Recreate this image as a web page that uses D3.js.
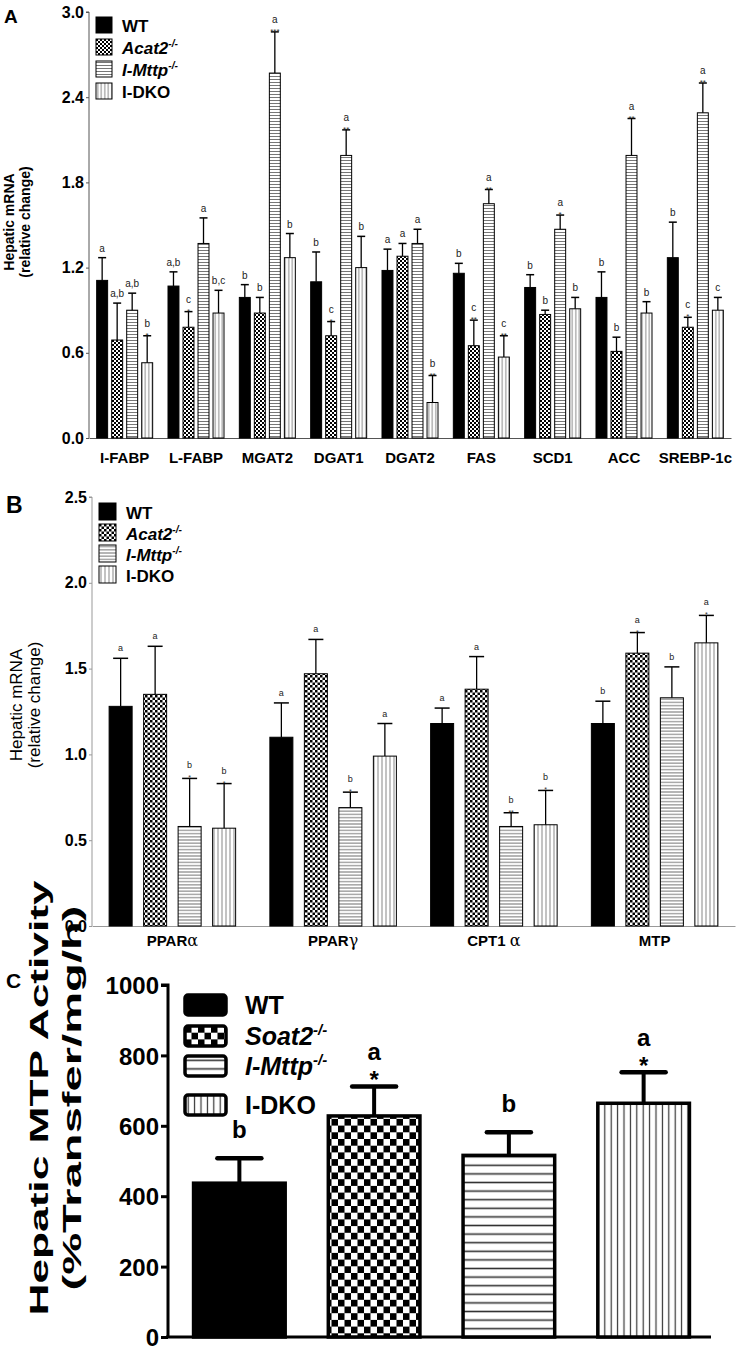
<!DOCTYPE html>
<html>
<head>
<meta charset="utf-8">
<script src="https://cdn.jsdelivr.net/npm/d3@7"></script>
<style>
  body { margin: 0; background: #fff; }
  svg { display: block; font-family: "Liberation Sans", Arial, sans-serif; }
</style>
</head>
<body>
<div class="figure"></div>
<script>
(function () {
    // ---- data ----
    const groups = ['WT', 'Acat2', 'I-Mttp', 'I-DKO'];

    // panel A
    const genesA = ['I-FABP', 'L-FABP', 'MGAT2', 'DGAT1', 'DGAT2', 'FAS', 'SCD1', 'ACC', 'SREBP-1c'];
    const wtA = [1.11, 1.07, 0.99, 1.10, 1.18, 1.16, 1.06, 0.99, 1.27];
    const wtErrA = [0.16, 0.10, 0.09, 0.21, 0.15, 0.07, 0.09, 0.18, 0.25];
    const acatA = [0.69, 0.78, 0.88, 0.72, 1.28, 0.65, 0.87, 0.61, 0.78];
    const acatErrA = [0.26, 0.11, 0.11, 0.10, 0.09, 0.18, 0.03, 0.10, 0.07];
    const mttpA = [0.90, 1.37, 2.57, 1.99, 1.37, 1.65, 1.47, 1.99, 2.29];
    const mttpErrA = [0.12, 0.18, 0.29, 0.18, 0.10, 0.10, 0.10, 0.26, 0.21];
    const dkoA = [0.53, 0.88, 1.27, 1.20, 0.25, 0.57, 0.91, 0.88, 0.90];
    const dkoErrA = [0.19, 0.16, 0.17, 0.22, 0.19, 0.15, 0.08, 0.08, 0.09];
    const wtLetA = ['a', 'a,b', 'b', 'b', 'a', 'b', 'b', 'b', 'b'];
    const acatLetA = ['a,b', 'c', 'b', 'c', 'a', 'c', 'b', 'b', 'c'];
    const mttpLetA = ['a,b', 'a', 'a', 'a', 'a', 'a', 'a', 'a', 'a'];
    const dkoLetA = ['b', 'b,c', 'b', 'b', 'b', 'c', 'b', 'b', 'c'];
    const wtStarA = ['', '', '', '', '', '', '', '', ''];
    const acatStarA = ['', '*', '', '*', '', '**', '', '', '*'];
    const mttpStarA = ['', '', '***', '**', '', '**', '*', '**', '**'];
    const dkoStarA = ['*', '', '', '', '**', '**', '', '', ''];
    const ticksA = [0, 0.6, 1.2, 1.8, 2.4, 3.0];

    // panel B
    const genesB = ['PPAR|α', 'PPAR|γ', 'CPT1 |α', 'MTP|'];
    const wtB = [1.28, 1.10, 1.18, 1.18];
    const wtErrB = [0.28, 0.20, 0.09, 0.13];
    const acatB = [1.35, 1.47, 1.38, 1.59];
    const acatErrB = [0.28, 0.20, 0.19, 0.12];
    const mttpB = [0.58, 0.69, 0.58, 1.33];
    const mttpErrB = [0.28, 0.09, 0.08, 0.18];
    const dkoB = [0.57, 0.99, 0.59, 1.65];
    const dkoErrB = [0.26, 0.19, 0.20, 0.16];
    const wtLetB = ['a', 'a', 'a', 'b'];
    const acatLetB = ['a', 'a', 'a', 'a'];
    const mttpLetB = ['b', 'b', 'b', 'b'];
    const dkoLetB = ['b', 'a', 'b', 'a'];
    const wtStarB = ['', '', '', ''];
    const acatStarB = ['', '', '', '*'];
    const mttpStarB = ['*', '*', '**', ''];
    const dkoStarB = ['*', '', '*', '*'];
    const ticksB = [0, 0.5, 1.0, 1.5, 2.0, 2.5];

    // panel C
    const groupsC = ['WT', 'Soat2', 'I-Mttp', 'I-DKO'];
    const mtpC = [437, 628, 516, 664];
    const mtpErrC = [71, 84, 66, 88];
    const letC = ['b', 'a', 'b', 'a'];
    const starC = ['', '*', '', '*'];
    const ticksC = [0, 200, 400, 600, 800, 1000];

    // ---- svg + patterns ----
    const svg = d3.select('.figure').append('svg')
        .attr('width', 754)
        .attr('height', 1350);
    const defs = svg.append('defs');

    function addPattern(id, w, h, draw) {
        const p = defs.append('pattern')
            .attr('id', id)
            .attr('patternUnits', 'userSpaceOnUse')
            .attr('width', w)
            .attr('height', h);
        p.append('rect').attr('width', w).attr('height', h).attr('fill', '#fff');
        draw(p, w, h);
    }
    function checker(p, w, h) {
        p.append('rect').attr('width', w / 2).attr('height', h / 2).attr('fill', '#000');
        p.append('rect').attr('x', w / 2).attr('y', h / 2).attr('width', w / 2).attr('height', h / 2).attr('fill', '#000');
    }
    function hlines(color, sw) {
        return function (p, w, h) {
            p.append('line').attr('x1', 0).attr('x2', w).attr('y1', h / 2).attr('y2', h / 2)
                .attr('stroke', color).attr('stroke-width', sw);
        };
    }
    function vlines(color, sw) {
        return function (p, w, h) {
            p.append('line').attr('y1', 0).attr('y2', h).attr('x1', w / 2).attr('x2', w / 2)
                .attr('stroke', color).attr('stroke-width', sw);
        };
    }
    addPattern('checkA', 4, 4, checker);
    addPattern('hlineA', 4, 3, hlines('#777', 1));
    addPattern('vlineA', 3.5, 4, vlines('#888', 1));
    addPattern('checkB', 5, 5, checker);
    addPattern('hlineB', 4, 3.2, hlines('#777', 1));
    addPattern('vlineB', 4, 4, vlines('#888', 1));
    addPattern('checkC', 13, 13.4, checker);
    addPattern('hlineC', 4, 8.6, hlines('#333', 1.6));
    addPattern('vlineC', 6.4, 4, vlines('#333', 1.2));

    const fillsA = ['#000', 'url(#checkA)', 'url(#hlineA)', 'url(#vlineA)'];
    const fillsB = ['#000', 'url(#checkB)', 'url(#hlineB)', 'url(#vlineB)'];
    const fillsC = ['#000', 'url(#checkC)', 'url(#hlineC)', 'url(#vlineC)'];

    // legend label with italic name and -/- superscript
    function legendText(sel, name, size) {
        const t = sel.append('text').attr('font-size', size).attr('font-weight', 'bold');
        if (name === 'WT' || name === 'I-DKO') {
            t.text(name);
        } else {
            t.append('tspan').attr('font-style', 'italic').text(name);
            t.append('tspan').attr('font-style', 'italic').attr('font-size', size * 0.6)
                .attr('dy', -size * 0.4).text('-/-');
        }
        return t;
    }

    function panelLetter(txt, x, y, size) {
        svg.append('text').attr('x', x).attr('y', y).attr('font-size', size)
            .attr('font-weight', 'bold').text(txt);
    }

    function drawGrouped(cfg) {
        const y = d3.scaleLinear().domain(cfg.domain).range([cfg.bottom, cfg.top]);
        const x = d3.scaleBand().domain(cfg.genes).range([cfg.left, cfg.right])
            .paddingInner(cfg.pad).paddingOuter(cfg.pad / 2);
        const xs = d3.scaleBand().domain(groups).range([0, x.bandwidth()]).paddingInner(cfg.subPad);
        const g = svg.append('g');

        // y axis
        const yAxis = g.append('g')
            .attr('transform', `translate(${cfg.left},0)`)
            .call(d3.axisLeft(y).tickValues(cfg.ticks).tickFormat(d3.format('.1f')).tickSize(3).tickPadding(2));
        yAxis.selectAll('path, line').attr('stroke', cfg.axisColor);
        yAxis.select('.domain').attr('d', `M-3,${cfg.top}H0V${cfg.bottom}`);
        yAxis.selectAll('text').attr('font-size', 16).attr('font-weight', 'bold')
            .attr('font-family', '"Liberation Sans", Arial, sans-serif').attr('fill', '#000');

        // x axis
        const xAxis = g.append('g')
            .attr('transform', `translate(0,${cfg.bottom})`)
            .call(d3.axisBottom(x).tickSize(0).tickPadding(cfg.labelPad));
        xAxis.select('.domain').attr('stroke', cfg.axisColor);
        xAxis.selectAll('text').remove();
        xAxis.selectAll('.tick').each(function (d) {
            const parts = d.split('|');
            const t = d3.select(this).append('text')
                .attr('y', cfg.labelPad)
                .attr('text-anchor', 'middle')
                .attr('fill', '#000')
                .attr('font-family', '"Liberation Sans", Arial, sans-serif')
                .attr('font-size', cfg.labelSize)
                .attr('font-weight', 'bold');
            t.append('tspan').text(parts[0]);
            if (parts.length > 1 && parts[1]) {
                t.append('tspan').attr('font-family', '"DejaVu Serif", serif')
                    .attr('font-weight', 'normal').attr('font-size', cfg.labelSize + 1).text(parts[1]);
            }
        });

        // bars
        cfg.series.forEach(function (s, k) {
            const bars = g.append('g');
            s.mean.forEach(function (m, i) {
                const bx = x(cfg.genes[i]) + xs(groups[k]);
                const bw = xs.bandwidth();
                const cx = bx + bw / 2;
                const capY = y(m + s.err[i]);
                bars.append('rect')
                    .attr('x', bx).attr('y', y(m))
                    .attr('width', bw).attr('height', y(0) - y(m))
                    .attr('fill', cfg.fills[k])
                    .attr('stroke', '#000').attr('stroke-width', 1);
                bars.append('line')
                    .attr('x1', cx).attr('x2', cx).attr('y1', y(m)).attr('y2', capY)
                    .attr('stroke', '#000').attr('stroke-width', 1.3);
                bars.append('line')
                    .attr('x1', cx - cfg.cap / 2).attr('x2', cx + cfg.cap / 2).attr('y1', capY).attr('y2', capY)
                    .attr('stroke', '#000').attr('stroke-width', 1.5);
                const star = s.star[i];
                if (star) {
                    bars.append('text').attr('x', cx).attr('y', capY + 2)
                        .attr('text-anchor', 'middle').attr('font-size', cfg.starSize)
                        .attr('fill', '#333').text(star);
                }
                bars.append('text').attr('x', cx).attr('y', capY - (star ? cfg.letLift + 2 : cfg.letLift - 1))
                    .attr('text-anchor', 'middle').attr('font-size', cfg.letSize)
                    .attr('fill', '#222').text(s.letters[i]);
            });
        });

        // legend
        const lg = g.append('g').attr('transform', `translate(${cfg.legend.x},${cfg.legend.y})`);
        groups.forEach(function (name, k) {
            const row = lg.append('g').attr('transform', `translate(0,${k * cfg.legend.step})`);
            row.append('rect').attr('width', cfg.legend.box).attr('height', cfg.legend.box)
                .attr('fill', cfg.fills[k]).attr('stroke', '#000').attr('stroke-width', 1);
            legendText(row, name, cfg.legend.size)
                .attr('x', cfg.legend.box + 10).attr('y', cfg.legend.box - 1);
        });

        // y title
        cfg.title.lines.forEach(function (line, j) {
            svg.append('text')
                .attr('transform', `translate(${cfg.title.x[j]},${cfg.title.y}) rotate(-90)`)
                .attr('text-anchor', 'middle')
                .attr('font-size', cfg.title.size)
                .attr('font-weight', cfg.title.weight)
                .text(line);
        });
    }

    // ---- panel A ----
    panelLetter('A', 4, 23, 19);
    drawGrouped({
        genes: genesA, domain: [0, 3], ticks: ticksA,
        top: 12, bottom: 438, left: 89, right: 731,
        pad: 0.215, subPad: 0.27, cap: 8,
        axisColor: '#555', labelSize: 15, labelPad: 25,
        letSize: 10, letLift: 7, starSize: 8,
        fills: fillsA,
        series: [
            { mean: wtA, err: wtErrA, letters: wtLetA, star: wtStarA },
            { mean: acatA, err: acatErrA, letters: acatLetA, star: acatStarA },
            { mean: mttpA, err: mttpErrA, letters: mttpLetA, star: mttpStarA },
            { mean: dkoA, err: dkoErrA, letters: dkoLetA, star: dkoStarA }
        ],
        legend: { x: 96, y: 17, step: 22, box: 16, size: 17 },
        title: { lines: ['Hepatic mRNA', '(relative change)'], x: [14, 30], y: 222, size: 14, weight: 'bold' }
    });

    // ---- panel B ----
    panelLetter('B', 6, 513, 23);
    drawGrouped({
        genes: genesB, domain: [0, 2.5], ticks: ticksB,
        top: 497, bottom: 926, left: 92, right: 735,
        pad: 0.213, subPad: 0.333, cap: 15,
        axisColor: '#999', labelSize: 15, labelPad: 20,
        letSize: 9, letLift: 8, starSize: 7,
        fills: fillsB,
        series: [
            { mean: wtB, err: wtErrB, letters: wtLetB, star: wtStarB },
            { mean: acatB, err: acatErrB, letters: acatLetB, star: acatStarB },
            { mean: mttpB, err: mttpErrB, letters: mttpLetB, star: mttpStarB },
            { mean: dkoB, err: dkoErrB, letters: dkoLetB, star: dkoStarB }
        ],
        legend: { x: 99, y: 503, step: 21, box: 17, size: 17 },
        title: { lines: ['Hepatic mRNA', '(relative change)'], x: [22, 40], y: 705, size: 17, weight: 'normal' }
    });

    // ---- panel C ----
    panelLetter('C', 6, 988, 21);
    const yC = d3.scaleLinear().domain([0, 1000]).range([1337, 985]);
    const xC = d3.scaleBand().domain(groupsC).range([172, 711]).paddingInner(0.32).paddingOuter(0.16);
    const gC = svg.append('g');

    const yAxisC = gC.append('g')
        .attr('transform', 'translate(168,0)')
        .call(d3.axisLeft(yC).tickValues(ticksC).tickFormat(d3.format('d')).tickSize(7).tickPadding(2));
    yAxisC.selectAll('path, line').attr('stroke', '#000').attr('stroke-width', 3);
    yAxisC.select('.domain').attr('d', 'M-7,985H0V1337');
    yAxisC.selectAll('text').attr('font-size', 24).attr('font-weight', 'bold')
        .attr('font-family', '"Liberation Sans", Arial, sans-serif').attr('fill', '#000')
        .attr('dy', '0.36em');

    gC.append('line').attr('x1', 166).attr('x2', 711).attr('y1', yC(0)).attr('y2', yC(0))
        .attr('stroke', '#000').attr('stroke-width', 3);

    groupsC.forEach(function (name, k) {
        const bx = xC(name);
        const bw = xC.bandwidth();
        const cx = bx + bw / 2;
        const m = mtpC[k];
        const capY = yC(m + mtpErrC[k]);
        gC.append('line').attr('x1', cx).attr('x2', cx).attr('y1', yC(m)).attr('y2', capY)
            .attr('stroke', '#000').attr('stroke-width', 4);
        gC.append('line').attr('x1', cx - 22).attr('x2', cx + 22).attr('y1', capY).attr('y2', capY)
            .attr('stroke', '#000').attr('stroke-width', 4.5).attr('stroke-linecap', 'round');
        gC.append('rect')
            .attr('x', bx).attr('y', yC(m))
            .attr('width', bw).attr('height', yC(0) - yC(m))
            .attr('fill', fillsC[k])
            .attr('stroke', '#000').attr('stroke-width', 3.5);
        if (starC[k]) {
            gC.append('text').attr('x', cx).attr('y', capY + 2).attr('text-anchor', 'middle')
                .attr('font-size', 24).attr('font-weight', 'bold').text(starC[k]);
        }
        gC.append('text').attr('x', cx).attr('y', capY - (starC[k] ? 26 : 20))
            .attr('text-anchor', 'middle').attr('font-size', 24).attr('font-weight', 'bold')
            .text(letC[k]);
    });

    // legend C
    const legC = gC.append('g').attr('transform', 'translate(185,995)');
    const legRowsC = [0, 31, 61, 100];
    groupsC.forEach(function (name, k) {
        const row = legC.append('g').attr('transform', `translate(0,${legRowsC[k]})`);
        row.append('rect').attr('width', 41).attr('height', 20).attr('rx', 3)
            .attr('fill', fillsC[k]).attr('stroke', '#000').attr('stroke-width', 3.5);
        legendText(row, name, 25).attr('x', 60).attr('y', 19);
    });

    // y title C
    svg.append('text')
        .attr('transform', 'translate(48,1098) rotate(-90)')
        .attr('text-anchor', 'middle').attr('font-size', 26).attr('font-weight', 'bold')
        .attr('textLength', 435).attr('lengthAdjust', 'spacingAndGlyphs')
        .text('Hepatic MTP Activity');
    svg.append('text')
        .attr('transform', 'translate(81,1098) rotate(-90)')
        .attr('text-anchor', 'middle').attr('font-size', 25).attr('font-weight', 'bold')
        .attr('textLength', 385).attr('lengthAdjust', 'spacingAndGlyphs')
        .text('(%Transfer/mg/h)');
})();
</script>
</body>
</html>
